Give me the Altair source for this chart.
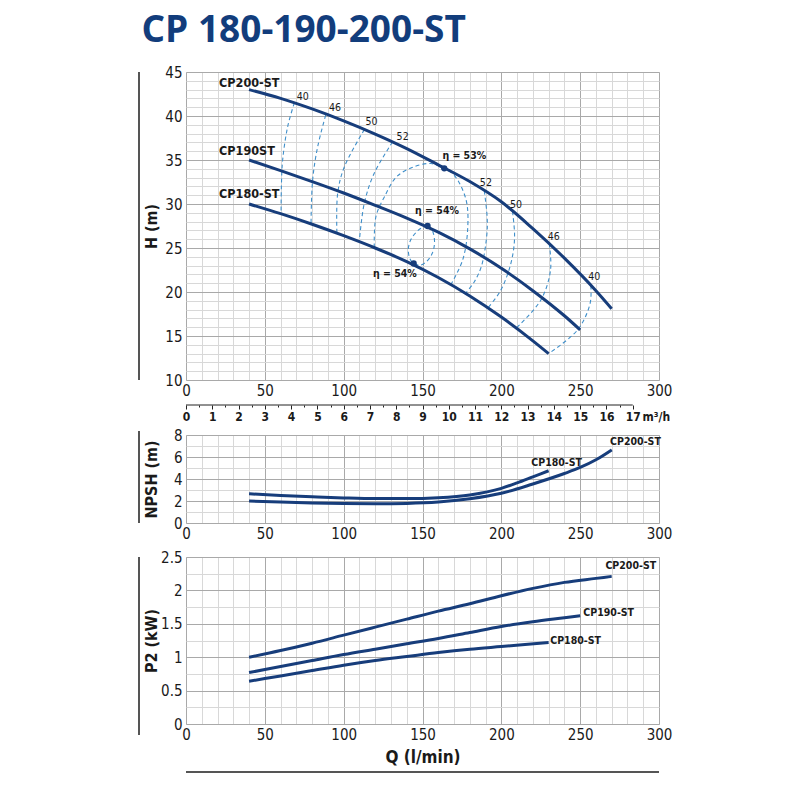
import altair as alt
import pandas as pd

# ---------------- H-Q curves (Q in l/min, H in m) ----------------
h200_q = [40, 60, 80, 100, 120, 140, 160, 180, 200, 220, 240, 260, 270]
h200_h = [43.0, 42.0, 40.8, 39.45, 37.95, 36.3, 34.45, 32.55, 30.25, 27.2, 23.85, 20.15, 18.1]
h190_q = [40, 60, 80, 100, 120, 140, 160, 180, 200, 220, 240, 250]
h190_h = [35.0, 33.8, 32.55, 31.25, 29.85, 28.4, 26.8, 24.9, 22.7, 20.15, 17.3, 15.7]
h180_q = [40, 60, 80, 100, 120, 140, 160, 180, 200, 220, 230]
h180_h = [30.0, 28.9, 27.7, 26.4, 25.0, 23.45, 21.65, 19.55, 17.15, 14.45, 13.0]
h_names = ["CP200-ST", "CP190ST", "CP180-ST"]
h_lab_q = [21, 21, 21]
h_lab_h = [43.75, 36.0, 31.1]

# ---------------- iso-efficiency curves ----------------
iso40l_q = [68.7, 64.5, 61.3, 60.5, 60.3]
iso40l_h = [41.5, 38.8, 35.0, 32.0, 28.9]
iso46l_q = [88.6, 83.5, 80.3, 79.3]
iso46l_h = [40.1, 36.5, 32.7, 27.8]
iso50l_q = [113.1, 100.4, 96.2, 95.7]
iso50l_h = [38.45, 34.2, 31.2, 26.7]
iso52l_q = [131.0, 119.4, 113.1, 109.9]
iso52l_h = [37.05, 33.5, 30.1, 25.7]
iso53_q = [119.4, 120.5, 125.8, 133.6, 144.8, 155.4, 163.8, 170.0, 177.6, 178.6, 175.4, 168.0]
iso53_h = [25.05, 28.6, 30.8, 33.1, 34.25, 34.6, 34.05, 33.3, 30.5, 27.0, 23.6, 20.85]
iso54_q = [153.2, 149.5, 145.5, 142.2, 141.0, 142.0, 144.4, 148.5, 152.8, 156.2, 157.6, 157.0, 155.2, 153.2]
iso54_h = [27.5, 27.3, 26.7, 25.8, 24.8, 23.8, 23.25, 23.05, 23.5, 24.4, 25.5, 26.6, 27.3, 27.5]
iso52r_q = [189.2, 191.0, 190.8, 187.5, 183.0, 177.5]
iso52r_h = [31.5, 28.5, 26.5, 23.0, 21.2, 19.9]
iso50r_q = [207.1, 208.4, 207.5, 204.5, 199.0, 191.5]
iso50r_h = [29.15, 26.5, 24.5, 22.3, 20.0, 18.2]
iso46r_q = [230.4, 231.2, 225.1, 209.5]
iso46r_h = [25.5, 22.5, 19.1, 15.9]
iso40r_q = [256.8, 256.3, 248.4, 230.0]
iso40r_h = [20.7, 18.7, 15.7, 13.0]

iso_lab_text = ["40", "46", "50", "52", "52", "50", "46", "40"]
iso_lab_q = [74.0, 94.5, 117.7, 137.4, 190.2, 209.3, 233.2, 259.0]
iso_lab_h = [42.2, 40.9, 39.35, 37.65, 32.35, 29.9, 26.3, 21.7]

eta_text = ["η = 53%", "η = 54%", "η = 54%"]
eta_lab_q = [176.5, 159.2, 132.5]
eta_lab_h = [35.45, 29.2, 22.05]
eta_pt_q = [163.8, 153.2, 144.4]
eta_pt_h = [34.05, 27.5, 23.25]

# ---------------- NPSH curves ----------------
npsh180_q = [40, 60, 80, 100, 120, 140, 160, 180, 200, 210, 220, 230]
npsh180_v = [2.65, 2.5, 2.38, 2.28, 2.22, 2.22, 2.3, 2.55, 3.15, 3.65, 4.2, 4.75]
npsh200_q = [40, 60, 80, 100, 120, 140, 160, 180, 200, 220, 240, 250, 260, 270]
npsh200_v = [2.0, 1.9, 1.82, 1.77, 1.75, 1.78, 1.9, 2.2, 2.7, 3.55, 4.5, 5.05, 5.75, 6.65]
npsh_names = ["CP180-ST", "CP200-ST"]
npsh_lab_q = [219, 269]
npsh_lab_v = [5.5, 7.4]

# ---------------- P2 curves ----------------
p200_q = [40, 60, 80, 100, 120, 140, 160, 180, 200, 220, 240, 260, 270]
p200_v = [1.0, 1.1, 1.21, 1.33, 1.45, 1.57, 1.69, 1.8, 1.92, 2.03, 2.12, 2.18, 2.21]
p190_q = [40, 60, 80, 100, 120, 140, 160, 180, 200, 220, 240, 250]
p190_v = [0.77, 0.86, 0.95, 1.04, 1.12, 1.2, 1.28, 1.37, 1.46, 1.53, 1.59, 1.62]
p180_q = [40, 60, 80, 100, 120, 140, 160, 180, 200, 215, 230]
p180_v = [0.64, 0.72, 0.8, 0.88, 0.95, 1.01, 1.07, 1.12, 1.16, 1.19, 1.22]
p_names = ["CP200-ST", "CP190-ST", "CP180-ST"]
p_lab_q = [266, 252, 231]
p_lab_v = [2.36, 1.66, 1.25]

# ---------------- axes ticks ----------------
grid_q = list(range(0, 301, 10))
grid_h = list(range(10, 46, 1))
grid_npsh = list(range(0, 9, 1))
grid_p2 = [0, 0.25, 0.5, 0.75, 1, 1.25, 1.5, 1.75, 2, 2.25, 2.5]
m3h_ticks = [i / 2 for i in range(0, 35)]

# ---------------- style ----------------
W, H1, H2, H3 = 473, 308, 88, 167
FONT = "Liberation Sans Narrow, DejaVu Sans Condensed, sans-serif"
NAVY = "#173d7b"
DASHC = "#3f8fca"
TXT = "#1a1a1a"
GRID_MIN = "#d8d8d8"
GRID_MAJ = "#a9a9a9"


def lines_df(series):
    rows = []
    for name, (qs, vs) in series.items():
        for i, (q, v) in enumerate(zip(qs, vs)):
            rows.append({"curve": name, "i": i, "Q": q, "V": v})
    return pd.DataFrame(rows)


def make_xy(height, ydom, yvals, ymaj, ytitle, xtitle=None):
    xax = dict(values=grid_q, labelExpr="datum.value % 50 === 0 ? datum.label : ''",
               grid=True,
               gridColor={"condition": {"test": "datum.value % 50 === 0", "value": GRID_MAJ}, "value": GRID_MIN},
               gridWidth=1, ticks=False, domain=False, labelFont=FONT, labelFontSize=15,
               labelColor=TXT, labelPadding=3, labelFlush=False, labelOverlap=False)
    if xtitle:
        xax.update(titleFont=FONT, titleFontSize=17, titleFontWeight="bold", titleColor=TXT, titlePadding=7)
    X = alt.X("Q:Q", scale=alt.Scale(domain=[0, 300], nice=False, zero=False),
              axis=alt.Axis(**xax), title=xtitle)
    Y = alt.Y("V:Q", scale=alt.Scale(domain=ydom, nice=False, zero=False), title=ytitle,
              axis=alt.Axis(values=yvals,
                            labelExpr=f"datum.value % {ymaj} === 0 ? format(datum.value, '~g') : ''",
                            grid=True,
                            gridColor={"condition": {"test": f"datum.value % {ymaj} === 0", "value": GRID_MAJ},
                                       "value": GRID_MIN},
                            ticks=False, domain=False, labelFont=FONT, labelFontSize=15, labelColor=TXT,
                            labelPadding=4, labelOverlap=False,
                            titleFont=FONT, titleFontSize=16, titleFontWeight="bold", titleColor=TXT,
                            titleAngle=270, titleX=-35, titleY=height / 2, titleAlign="center",
                            titleBaseline="middle"))
    return X, Y


def side_bar(y0, y1):
    return alt.Chart(alt.Data(values=[{"k": 1}])).mark_rule(color="#555555", strokeWidth=2).encode(
        x=alt.value(-47), y=alt.value(y0), y2=alt.value(y1))


def curve_layer(df, X, Y, width=3):
    return alt.Chart(df).mark_line(color=NAVY, strokeWidth=width, interpolate="monotone",
                                   strokeCap="butt").encode(x=X, y=Y, detail="curve:N", order="i:Q")


def label_layer(names, qs, vs, X, Y, size, weight="bold", align="left"):
    df = pd.DataFrame({"label": names, "Q": qs, "V": vs})
    return alt.Chart(df).mark_text(font=FONT, fontSize=size, fontWeight=weight, color=TXT,
                                   align=align, baseline="middle").encode(x=X, y=Y, text="label:N")


# ================= H panel =================
Xh, Yh = make_xy(H1, [10, 45], grid_h, 5, "H (m)")
h_df = lines_df({"CP200": (h200_q, h200_h), "CP190": (h190_q, h190_h), "CP180": (h180_q, h180_h)})
iso_df = lines_df({
    "40L": (iso40l_q, iso40l_h), "46L": (iso46l_q, iso46l_h), "50L": (iso50l_q, iso50l_h),
    "52L": (iso52l_q, iso52l_h), "53": (iso53_q, iso53_h), "54": (iso54_q, iso54_h),
    "52R": (iso52r_q, iso52r_h), "50R": (iso50r_q, iso50r_h), "46R": (iso46r_q, iso46r_h),
    "40R": (iso40r_q, iso40r_h)})

iso_layer = alt.Chart(iso_df).mark_line(color=DASHC, strokeWidth=1.1, strokeDash=[4, 3],
                                        interpolate="catmull-rom").encode(
    x=Xh, y=Yh, detail="curve:N", order="i:Q")
pts = alt.Chart(pd.DataFrame({"Q": eta_pt_q, "V": eta_pt_h})).mark_circle(
    size=40, color=NAVY, opacity=1).encode(x=Xh, y=Yh)

h_main = alt.layer(
    side_bar(0, H1),
    iso_layer,
    curve_layer(h_df, Xh, Yh),
    pts,
    label_layer(h_names, h_lab_q, h_lab_h, Xh, Yh, 12.5),
    label_layer(iso_lab_text, iso_lab_q, iso_lab_h, Xh, Yh, 10.5, weight="normal", align="center"),
    label_layer(eta_text, eta_lab_q, eta_lab_h, Xh, Yh, 10.5, align="center"),
)

m3_df = pd.DataFrame({"a": [0], "b": [17]})
m3_layer = alt.Chart(m3_df).mark_rule(color="#222222", strokeWidth=1).encode(
    x=alt.X("a:Q", scale=alt.Scale(domain=[0, 18], nice=False, zero=False),
            axis=alt.Axis(orient="bottom", offset=25, values=m3h_ticks, domain=False, grid=False,
                          labelExpr="datum.value % 1 === 0 ? format(datum.value, 'd') : ''",
                          tickSize={"condition": {"test": "datum.value % 1 === 0", "value": 4}, "value": 2},
                          tickColor="#222222", labelFont=FONT, labelFontSize=12, labelFontWeight="bold",
                          labelColor=TXT, labelPadding=2, labelFlush=False, labelOverlap=False,
                          titleFont=FONT, titleFontSize=12, titleFontWeight="bold", titleColor=TXT,
                          titleX=456, titleY=6, titleAlign="left", titleBaseline="top", titleAngle=0),
            title="m³/h"),
    x2="b:Q",
    y=alt.value(H1 + 25))

h_chart = alt.layer(h_main, m3_layer).resolve_scale(x="independent").properties(width=W, height=H1)

# ================= NPSH panel =================
Xn, Yn = make_xy(H2, [0, 8], grid_npsh, 2, "NPSH (m)")
n_df = lines_df({"CP180": (npsh180_q, npsh180_v), "CP200": (npsh200_q, npsh200_v)})
n_chart = alt.layer(
    side_bar(-4, H2),
    curve_layer(n_df, Xn, Yn),
    label_layer(npsh_names, npsh_lab_q, npsh_lab_v, Xn, Yn, 10.5),
).properties(width=W, height=H2)

# ================= P2 panel =================
Xp, Yp = make_xy(H3, [0, 2.5], grid_p2, 0.5, "P2 (kW)", xtitle="Q (l/min)")
p_df = lines_df({"CP200": (p200_q, p200_v), "CP190": (p190_q, p190_v), "CP180": (p180_q, p180_v)})
bottom_line = alt.Chart(alt.Data(values=[{"k": 1}])).mark_rule(color="#555555", strokeWidth=2).encode(
    x=alt.value(0), x2=alt.value(W), y=alt.value(H3 + 48))
p_chart = alt.layer(
    side_bar(0, H3 + 11),
    bottom_line,
    curve_layer(p_df, Xp, Yp),
    label_layer(p_names, p_lab_q, p_lab_v, Xp, Yp, 10.5),
).properties(width=W, height=H3)

chart = alt.vconcat(
    alt.vconcat(h_chart, n_chart, spacing=4),
    p_chart, spacing=7,
).properties(
    title=alt.Title("CP 180-190-200-ST", font="Open Sans", fontSize=37, fontWeight="bold",
                    color="#123d7c", anchor="start", offset=15, dx=4),
    padding={"left": 129, "top": 3, "right": 10, "bottom": 5},
).configure_view(stroke="#1b1b1b", strokeWidth=2).configure(background="white")

chart.save("out.html", embed_options={"renderer": "svg", "actions": False})
